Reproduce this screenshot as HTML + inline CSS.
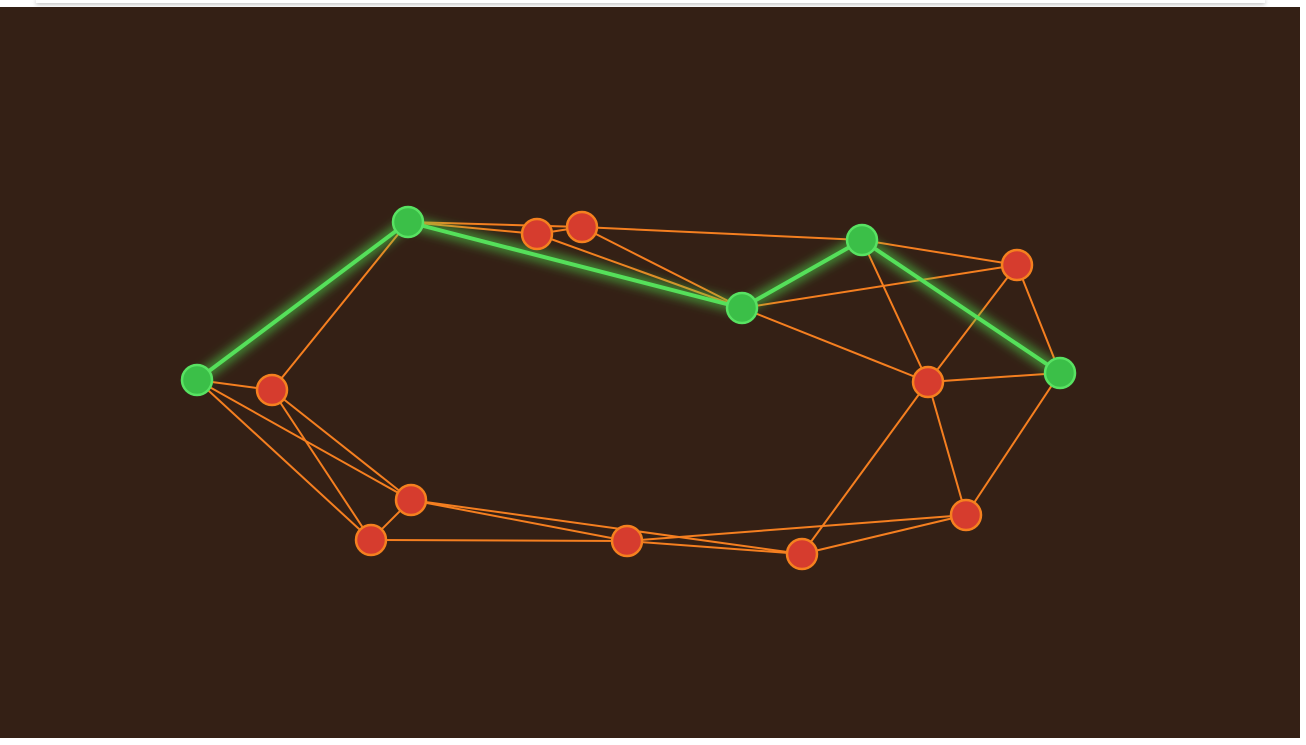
<!DOCTYPE html>
<html><head><meta charset="utf-8"><style>
html,body{margin:0;padding:0;background:#fff;width:1306px;height:745px;overflow:hidden}
#bar{position:absolute;left:36px;top:0;width:1229px;height:3px;background:#fff;box-shadow:0 1px 4px rgba(0,0,0,0.35)}
#stage{position:absolute;left:0;top:7px;width:1300px;height:731px;background:#342015}
svg{position:absolute;left:0;top:0}
</style></head><body>
<div id="bar"></div>
<div id="stage"></div>
<svg id="g" width="1306" height="745">
<defs><filter id="glow" x="-20%" y="-20%" width="140%" height="140%"><feGaussianBlur stdDeviation="5"/></filter></defs>
</svg>
<script>
const nodeNames=['A','B','C','D','E','F','G','H','I','J','K','L','M','N','O'];
const nodeX=[197,272,408,537,582,742,862,1017,928,1060,411,371,627,802,966];
const nodeY=[380,390,222,234,227,308,240,265,382,373,500,540,541,554,515];
const onPath=[1,0,1,0,0,1,1,0,0,1,0,0,0,0,0];
const edges=[[0,1],[0,10],[0,11],[1,2],[1,10],[1,11],[2,3],[2,4],[3,4],[3,5],[4,5],[4,6],[5,7],[5,8],[6,7],[6,8],[7,8],[7,9],[8,9],[8,13],[8,14],[9,14],[10,11],[10,12],[10,13],[11,12],[12,13],[12,14],[13,14]];
const pathEdges=[[0,2],[2,5],[5,6],[6,9]];
const svg=document.getElementById('g');const NS='http://www.w3.org/2000/svg';
function mk(t,a){const e=document.createElementNS(NS,t);for(const k in a)e.setAttribute(k,a[k]);svg.appendChild(e);return e;}
edges.forEach(([a,b])=>{const l=mk('line',{x1:nodeX[a],y1:nodeY[a],x2:nodeX[b],y2:nodeY[b],stroke:'#f57f20','stroke-width':2});

});
pathEdges.forEach(([a,b])=>{const g=mk('line',{x1:nodeX[a],y1:nodeY[a],x2:nodeX[b],y2:nodeY[b],stroke:'#4fe04f','stroke-width':12,'stroke-opacity':0.55,filter:'url(#glow)'});


const l=mk('line',{x1:nodeX[a],y1:nodeY[a],x2:nodeX[b],y2:nodeY[b],stroke:'#55e05a','stroke-width':4});

});
nodeX.forEach((x,i)=>{const c=mk('circle',{cx:x,cy:nodeY[i],r:15,fill:onPath[i]?'#3bbf48':'#d63c2e',stroke:onPath[i]?'#58e262':'#f5801f','stroke-width':2.5});

});
</script>
</body></html>
